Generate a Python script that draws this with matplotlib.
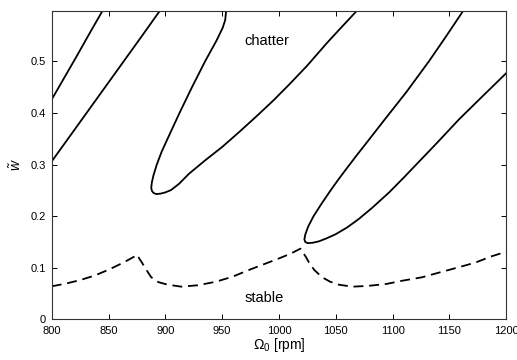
import matplotlib
matplotlib.use("Agg")
import matplotlib.pyplot as plt

# ---- data ----
# stability lobe branches (spindle speed [rpm], depth w~)
lobe1_x = [800, 811, 822, 833, 845]
lobe1_y = [0.426, 0.468, 0.510, 0.553, 0.599]

lobe2_x = [800, 816, 832, 848, 864, 880, 895.5]
lobe2_y = [0.306, 0.355, 0.404, 0.453, 0.502, 0.551, 0.599]

lobe3_x = [953.6, 952.7, 950.5, 945, 935, 923.5, 912.5, 902, 896.8, 892.5, 889.7, 888.2, 887.6,
           888.2, 889.6, 892, 896, 900, 905, 912, 921, 935, 950, 965, 980,
           995, 1009, 1025, 1042, 1055, 1069]
lobe3_y = [0.599, 0.580, 0.565, 0.540, 0.500, 0.450, 0.400, 0.350, 0.325, 0.300, 0.280, 0.266, 0.255,
           0.249, 0.245, 0.2427, 0.2437, 0.246, 0.2505, 0.2625, 0.2825, 0.308, 0.334, 0.363, 0.393,
           0.424, 0.455, 0.492, 0.535, 0.566, 0.599]

lobe4_x = [1162.5, 1147, 1132, 1112, 1093, 1079.2, 1068.5, 1058.8, 1052, 1045.5, 1037.8, 1030.5,
           1025.8, 1023.3, 1022.4, 1023.2, 1025.3, 1030, 1035, 1042, 1050, 1060, 1070, 1082, 1097,
           1110, 1123.5, 1140, 1158.7, 1180, 1200]
lobe4_y = [0.599, 0.548, 0.500, 0.440, 0.387, 0.348, 0.318, 0.290, 0.270, 0.250, 0.225, 0.200,
           0.180, 0.165, 0.155, 0.150, 0.1476, 0.1485, 0.151, 0.157, 0.165, 0.178, 0.194, 0.216, 0.246,
           0.275, 0.306, 0.344, 0.388, 0.434, 0.477]

# lower (dashed) stability boundary
bound_x = [800, 812, 825, 838, 851, 864, 875.5, 877, 879.7, 883, 887.6, 894, 902, 914, 928.6,
           944.8, 959.4, 974, 987, 1000, 1010, 1019, 1021, 1024, 1026.5, 1031, 1038, 1045, 1053,
           1064.6, 1078, 1094.5, 1109, 1126, 1140.8, 1158.4, 1173, 1187, 1200]
bound_y = [0.064, 0.069, 0.076, 0.085, 0.097, 0.111, 0.125, 0.118, 0.109, 0.097, 0.0815, 0.072, 0.0672, 0.0633, 0.066,
           0.073, 0.0828, 0.096, 0.107, 0.118, 0.127, 0.137, 0.130, 0.120, 0.110, 0.096, 0.0815, 0.073, 0.067,
           0.0633, 0.0647, 0.0685, 0.075, 0.0815, 0.0905, 0.101, 0.110, 0.122, 0.131]

x_ticks = [800, 850, 900, 950, 1000, 1050, 1100, 1150, 1200]
y_ticks = [0, 0.1, 0.2, 0.3, 0.4, 0.5]
y_tick_labels = ["0", "0.1", "0.2", "0.3", "0.4", "0.5"]

# ---- styling ----
plt.rcParams["font.family"] = ["Liberation Sans", "DejaVu Sans"]
plt.rcParams["mathtext.fontset"] = "custom"
plt.rcParams["mathtext.rm"] = "Liberation Sans"
plt.rcParams["mathtext.it"] = "Liberation Sans:italic"

fig = plt.figure(figsize=(5.17, 3.60), dpi=100)
ax = fig.add_axes([0.100, 0.113, 0.879, 0.857])

for xs, ys in [(lobe1_x, lobe1_y), (lobe2_x, lobe2_y), (lobe3_x, lobe3_y), (lobe4_x, lobe4_y)]:
    ax.plot(xs, ys, color="black", lw=1.3, solid_joinstyle="round")
ax.plot(bound_x, bound_y, color="black", lw=1.3, linestyle=(0, (5.5, 3.2)))

ax.text(989, 0.539, "chatter", ha="center", va="center", fontsize=10.5)
ax.text(987, 0.041, "stable", ha="center", va="center", fontsize=10.5)

ax.set_xlim(800, 1200)
ax.set_ylim(0, 0.598)
ax.set_xticks(x_ticks)
ax.set_xticklabels([str(v) for v in x_ticks])
ax.set_yticks(y_ticks)
ax.set_yticklabels(y_tick_labels)
ax.tick_params(direction="in", length=3.5, width=0.7, top=True, right=True,
               labelsize=8)
ax.tick_params(axis="x", pad=5)
ax.tick_params(axis="y", pad=4)
for s in ax.spines.values():
    s.set_linewidth(0.8)
    s.set_color("#333333")

ax.set_xlabel(r"$\Omega_0$ [rpm]", fontsize=10, labelpad=0)
ax.set_ylabel(r"$\tilde{w}$", fontsize=10, labelpad=5)

fig.savefig("out.png", dpi=100)
